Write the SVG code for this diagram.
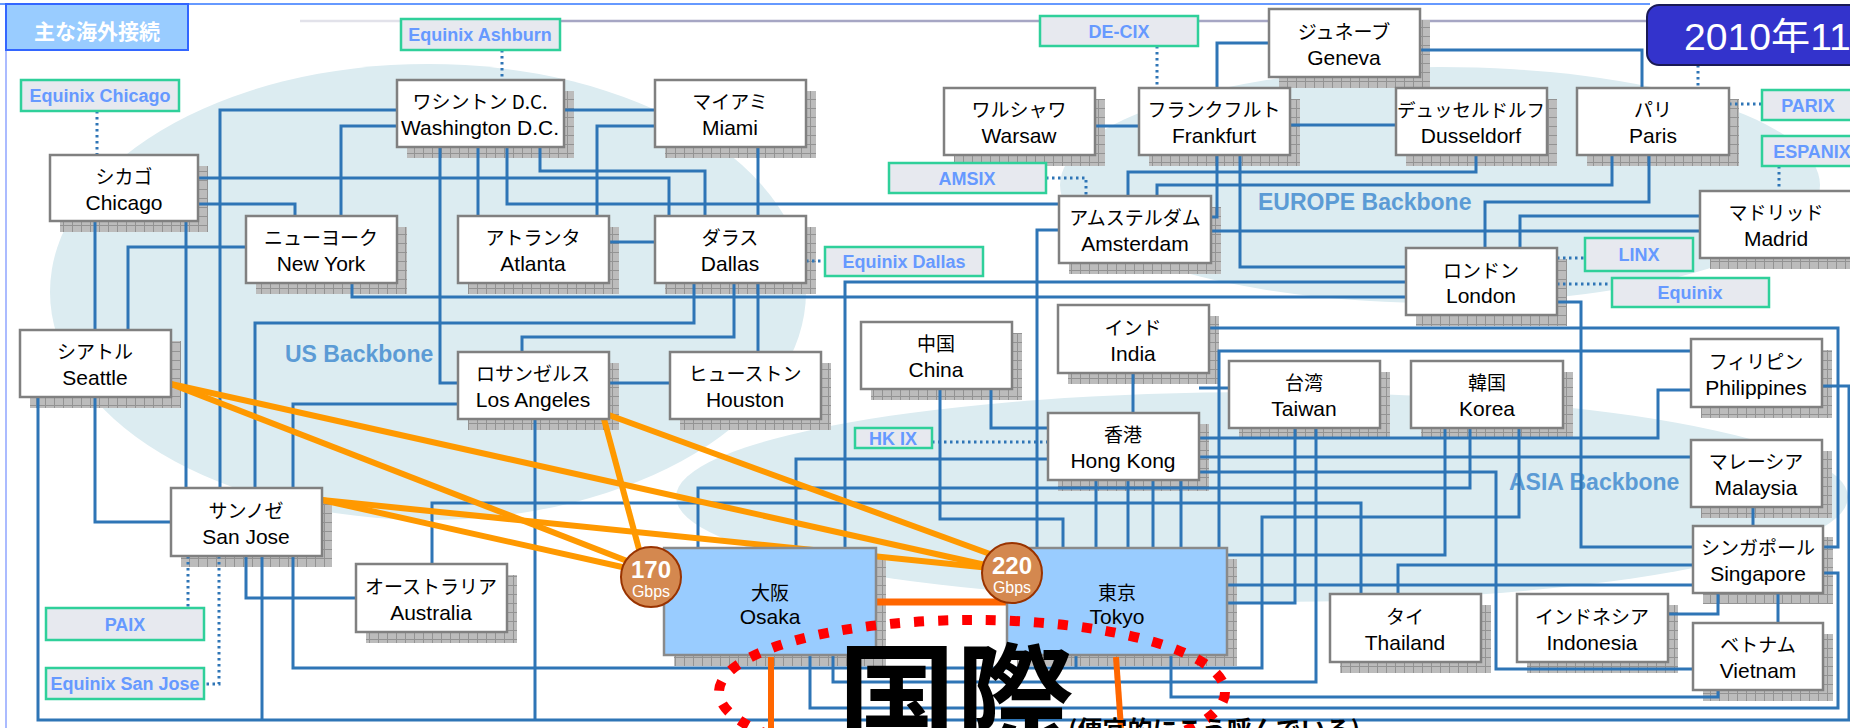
<svg xmlns="http://www.w3.org/2000/svg" width="1850" height="728" viewBox="0 0 1850 728">
<defs>
<pattern id="chk" width="9" height="9" patternUnits="userSpaceOnUse"><rect width="9" height="9" fill="#bcbcbc"/><path d="M0 0.5H9M0.5 0V9" stroke="#939393" stroke-width="1"/></pattern>
<style>
.box{fill:#fff;stroke:#808080;stroke-width:2.5}
.hub{fill:#99ccff;stroke:#8a8a8a;stroke-width:2.5}
.sh{fill:url(#chk)}
.jp{font-family:"Noto Sans CJK JP","Liberation Sans",sans-serif;font-size:19px;text-anchor:middle;fill:#000}
.en{font-family:"Liberation Sans",Arial,sans-serif;font-size:21px;text-anchor:middle;fill:#000}
.ixr{fill:#e7e9ef;stroke:#2fd09a;stroke-width:2.5}
.ixt{font-family:"Liberation Sans",Arial,sans-serif;font-weight:bold;font-size:18px;fill:#6699ff;text-anchor:middle}
.c{fill:none;stroke:#2e75b6;stroke-width:3}
.d{fill:none;stroke:#2e75b6;stroke-width:3;stroke-dasharray:2.5 3.5}
.o{fill:none;stroke:#ff9900;stroke-width:6}
.bb{font-family:"Liberation Sans",Arial,sans-serif;font-weight:bold;font-size:23px;fill:#5b9bd5}
.blob{fill:#dcecf1}
.gb{fill:#d4884f;stroke:#993300;stroke-width:2}
.gn{font-family:"Liberation Sans",Arial,sans-serif;font-weight:bold;font-size:24px;fill:#fff;text-anchor:middle}
.gs{font-family:"Liberation Sans",Arial,sans-serif;font-size:16px;fill:#fff;text-anchor:middle}
</style>
</defs>
<rect width="1850" height="728" fill="#fff"/>
<!-- frame -->
<line x1="0" y1="4" x2="1650" y2="4" stroke="#6699ff" stroke-width="2"/>
<line x1="300" y1="21" x2="560" y2="21" stroke="#e2e2ea" stroke-width="2.5"/>
<line x1="560" y1="21" x2="1650" y2="21" stroke="#a6a6c4" stroke-width="2.5"/>
<line x1="6" y1="50" x2="6" y2="728" stroke="#8fa4ff" stroke-width="1.5"/>
<!-- blobs -->
<ellipse class="blob" cx="428" cy="292" rx="378" ry="228"/>
<ellipse class="blob" cx="1440" cy="185" rx="380" ry="118"/>
<ellipse class="blob" cx="1262" cy="497" rx="586" ry="105"/>
<text class="bb" x="285" y="362">US Backbone</text>
<text class="bb" x="1258" y="210">EUROPE Backbone</text>
<text class="bb" x="1509" y="490">ASIA Backbone</text>
<!-- shadows -->
<g id="shadows">
<rect class="sh" x="60" y="166" width="148" height="66"/>
<rect class="sh" x="407" y="91" width="167" height="67"/>
<rect class="sh" x="665" y="91" width="151" height="67"/>
<rect class="sh" x="256" y="227" width="151" height="67"/>
<rect class="sh" x="468" y="227" width="151" height="67"/>
<rect class="sh" x="665" y="227" width="151" height="67"/>
<rect class="sh" x="30" y="341" width="151" height="67"/>
<rect class="sh" x="468" y="363" width="151" height="67"/>
<rect class="sh" x="680" y="363" width="151" height="67"/>
<rect class="sh" x="181" y="499" width="151" height="68"/>
<rect class="sh" x="366" y="575" width="151" height="68"/>
<rect class="sh" x="954" y="99" width="151" height="67"/>
<rect class="sh" x="1279" y="20" width="151" height="68"/>
<rect class="sh" x="1149" y="99" width="151" height="67"/>
<rect class="sh" x="1406" y="99" width="151" height="67"/>
<rect class="sh" x="1587" y="99" width="152" height="67"/>
<rect class="sh" x="1069" y="207" width="152" height="67"/>
<rect class="sh" x="1710" y="202" width="152" height="67"/>
<rect class="sh" x="1416" y="259" width="151" height="67"/>
<rect class="sh" x="871" y="333" width="151" height="67"/>
<rect class="sh" x="1068" y="316" width="151" height="68"/>
<rect class="sh" x="1058" y="424" width="151" height="67"/>
<rect class="sh" x="1239" y="372" width="151" height="67"/>
<rect class="sh" x="1421" y="372" width="152" height="67"/>
<rect class="sh" x="1701" y="350" width="131" height="68"/>
<rect class="sh" x="1701" y="451" width="131" height="67"/>
<rect class="sh" x="1703" y="537" width="130" height="67"/>
<rect class="sh" x="1703" y="634" width="130" height="67"/>
<rect class="sh" x="1340" y="605" width="151" height="68"/>
<rect class="sh" x="1527" y="605" width="151" height="68"/>
<rect class="sh" x="674" y="559" width="212" height="107"/>
<rect class="sh" x="1017" y="559" width="220" height="107"/>
</g>
<!-- connectors -->
<g id="connectors">
<path class="c" d="M397,126H341V216"/>
<path class="c" d="M397,110H220V488"/>
<path class="c" d="M564,110H655"/>
<path class="c" d="M655,126H597V216"/>
<path class="c" d="M198,178H669V216"/>
<path class="c" d="M198,204H295V216"/>
<path class="c" d="M540,147V171H705V216"/>
<path class="c" d="M507,147V204H1059"/>
<path class="c" d="M478,147V216"/>
<path class="c" d="M440,147V383H458"/>
<path class="c" d="M758,147V216"/>
<path class="c" d="M609,242H655"/>
<path class="c" d="M95,221V330"/>
<path class="c" d="M186,221V488"/>
<path class="c" d="M246,247H128V330"/>
<path class="c" d="M694,283V323H255V488"/>
<path class="c" d="M352,283V297H1406"/>
<path class="c" d="M734,283V337H522V352"/>
<path class="c" d="M758,283V352"/>
<path class="c" d="M609,383H670"/>
<path class="c" d="M458,404H293V488"/>
<path class="c" d="M535,419V720"/>
<path class="c" d="M38,397V720H1849V386H1822"/>
<path class="c" d="M95,397V522H171"/>
<path class="c" d="M246,556V598H356"/>
<path class="c" d="M262,556V720"/>
<path class="c" d="M293,556V668H1262V517H1519V428"/>
<path class="c" d="M432,564V503H1361V594"/>
<path class="c" d="M1269,43H1217V88"/>
<path class="c" d="M1420,50H1642V88"/>
<path class="c" d="M1290,125H1396"/>
<path class="c" d="M1095,126H1139"/>
<path class="c" d="M1240,155V267H1406"/>
<path class="c" d="M1217,155V217H1211"/>
<path class="c" d="M1476,155V172H1128V196"/>
<path class="c" d="M1612,155V185H1157V196"/>
<path class="c" d="M1649,155V202H1485V248"/>
<path class="c" d="M1700,216H1520V248"/>
<path class="c" d="M1211,231H1700"/>
<path class="c" d="M1059,230H1037V548"/>
<path class="c" d="M1406,282H845V548"/>
<path class="c" d="M1557,302H1581V547H1693"/>
<path class="c" d="M991,389V428H1048"/>
<path class="c" d="M940,389V519H1063V548"/>
<path class="c" d="M1048,459H796V548"/>
<path class="c" d="M1470,428V488H698V548"/>
<path class="c" d="M1133,373V413"/>
<path class="c" d="M1209,328H1838V547H1823"/>
<path class="c" d="M1691,390H1658V438H1199"/>
<path class="c" d="M1691,351H1219V548"/>
<path class="c" d="M1199,388H1229"/>
<path class="c" d="M1199,457H1691"/>
<path class="c" d="M1199,472H1496V669H1693"/>
<path class="c" d="M1295,428V603H1227"/>
<path class="c" d="M1316,428V682H833V655"/>
<path class="c" d="M810,655V708H1838V573H1823"/>
<path class="c" d="M1693,565H1398V594"/>
<path class="c" d="M1227,585H1693"/>
<path class="c" d="M1445,428V555H1227"/>
<path class="c" d="M1668,614H1718V593"/>
<path class="c" d="M1778,593V623"/>
<path class="c" d="M1718,690V697H1171V655"/>
<path class="c" d="M1753,507V526"/>
<path class="c" d="M1096,480V548"/>
<path class="c" d="M1128,480V548"/>
<path class="c" d="M1153,480V548"/>
<path class="c" d="M1181,480V548"/>
<path class="c" d="M1076,655V668"/>
<path class="d" d="M97,111V155"/>
<path class="d" d="M502,50V80"/>
<path class="d" d="M806,261H825"/>
<path class="d" d="M1046,178H1086V196"/>
<path class="d" d="M1157,46V88"/>
<path class="d" d="M1698,65V88"/>
<path class="d" d="M1729,104H1762"/>
<path class="d" d="M1779,166V191"/>
<path class="d" d="M1557,258H1585"/>
<path class="d" d="M1557,284H1612"/>
<path class="d" d="M932,442H1048"/>
<path class="d" d="M188,556V608"/>
<path class="d" d="M219,556V684H204"/>
<path class="o" d="M171,384L640,566"/>
<path class="o" d="M171,384L990,566"/>
<path class="o" d="M322,500L640,571"/>
<path class="o" d="M322,500L990,568"/>
<path class="o" d="M604,419L640,553"/>
<path class="o" d="M606,414L990,554"/>
<path d="M876,602H1007" stroke="#ff6600" stroke-width="7" fill="none"/>
<path d="M771,657V728" stroke="#ff6600" stroke-width="6" fill="none"/>
<path d="M1116,657L1121,728" stroke="#ff6600" stroke-width="6" fill="none"/>
</g>
<!-- nodes -->
<g id="n-chicago"><rect class="box" x="50" y="155" width="148" height="66"/><text class="jp" x="124" y="184">シカゴ</text><text class="en" x="124" y="210">Chicago</text></g>
<g id="n-washington"><rect class="box" x="397" y="80" width="167" height="67"/><text class="jp" x="480" y="109">ワシントン D.C.</text><text class="en" x="480" y="135">Washington D.C.</text></g>
<g id="n-miami"><rect class="box" x="655" y="80" width="151" height="67"/><text class="jp" x="730" y="109">マイアミ</text><text class="en" x="730" y="135">Miami</text></g>
<g id="n-newyork"><rect class="box" x="246" y="216" width="151" height="67"/><text class="jp" x="321" y="245">ニューヨーク</text><text class="en" x="321" y="271">New York</text></g>
<g id="n-atlanta"><rect class="box" x="458" y="216" width="151" height="67"/><text class="jp" x="533" y="245">アトランタ</text><text class="en" x="533" y="271">Atlanta</text></g>
<g id="n-dallas"><rect class="box" x="655" y="216" width="151" height="67"/><text class="jp" x="730" y="245">ダラス</text><text class="en" x="730" y="271">Dallas</text></g>
<g id="n-seattle"><rect class="box" x="20" y="330" width="151" height="67"/><text class="jp" x="95" y="359">シアトル</text><text class="en" x="95" y="385">Seattle</text></g>
<g id="n-losangeles"><rect class="box" x="458" y="352" width="151" height="67"/><text class="jp" x="533" y="381">ロサンゼルス</text><text class="en" x="533" y="407">Los Angeles</text></g>
<g id="n-houston"><rect class="box" x="670" y="352" width="151" height="67"/><text class="jp" x="745" y="381">ヒューストン</text><text class="en" x="745" y="407">Houston</text></g>
<g id="n-sanjose"><rect class="box" x="171" y="488" width="151" height="68"/><text class="jp" x="246" y="518">サンノゼ</text><text class="en" x="246" y="544">San Jose</text></g>
<g id="n-australia"><rect class="box" x="356" y="564" width="151" height="68"/><text class="jp" x="431" y="594">オーストラリア</text><text class="en" x="431" y="620">Australia</text></g>
<g id="n-warsaw"><rect class="box" x="944" y="88" width="151" height="67"/><text class="jp" x="1019" y="117">ワルシャワ</text><text class="en" x="1019" y="143">Warsaw</text></g>
<g id="n-geneva"><rect class="box" x="1269" y="9" width="151" height="68"/><text class="jp" x="1344" y="39">ジュネーブ</text><text class="en" x="1344" y="65">Geneva</text></g>
<g id="n-frankfurt"><rect class="box" x="1139" y="88" width="151" height="67"/><text class="jp" x="1214" y="117">フランクフルト</text><text class="en" x="1214" y="143">Frankfurt</text></g>
<g id="n-dusseldorf"><rect class="box" x="1396" y="88" width="151" height="67"/><text class="jp" x="1471" y="117" style="font-size:18.5px">デュッセルドルフ</text><text class="en" x="1471" y="143">Dusseldorf</text></g>
<g id="n-paris"><rect class="box" x="1577" y="88" width="152" height="67"/><text class="jp" x="1653" y="117">パリ</text><text class="en" x="1653" y="143">Paris</text></g>
<g id="n-amsterdam"><rect class="box" x="1059" y="196" width="152" height="67"/><text class="jp" x="1135" y="225">アムステルダム</text><text class="en" x="1135" y="251">Amsterdam</text></g>
<g id="n-madrid"><rect class="box" x="1700" y="191" width="152" height="67"/><text class="jp" x="1776" y="220">マドリッド</text><text class="en" x="1776" y="246">Madrid</text></g>
<g id="n-london"><rect class="box" x="1406" y="248" width="151" height="67"/><text class="jp" x="1481" y="278">ロンドン</text><text class="en" x="1481" y="303">London</text></g>
<g id="n-china"><rect class="box" x="861" y="322" width="151" height="67"/><text class="jp" x="936" y="351">中国</text><text class="en" x="936" y="377">China</text></g>
<g id="n-india"><rect class="box" x="1058" y="305" width="151" height="68"/><text class="jp" x="1133" y="335">インド</text><text class="en" x="1133" y="361">India</text></g>
<g id="n-hongkong"><rect class="box" x="1048" y="413" width="151" height="67"/><text class="jp" x="1123" y="442">香港</text><text class="en" x="1123" y="468">Hong Kong</text></g>
<g id="n-taiwan"><rect class="box" x="1229" y="361" width="151" height="67"/><text class="jp" x="1304" y="390">台湾</text><text class="en" x="1304" y="416">Taiwan</text></g>
<g id="n-korea"><rect class="box" x="1411" y="361" width="152" height="67"/><text class="jp" x="1487" y="390">韓国</text><text class="en" x="1487" y="416">Korea</text></g>
<g id="n-philippines"><rect class="box" x="1691" y="339" width="131" height="68"/><text class="jp" x="1756" y="369">フィリピン</text><text class="en" x="1756" y="395">Philippines</text></g>
<g id="n-malaysia"><rect class="box" x="1691" y="440" width="131" height="67"/><text class="jp" x="1756" y="469">マレーシア</text><text class="en" x="1756" y="495">Malaysia</text></g>
<g id="n-singapore"><rect class="box" x="1693" y="526" width="130" height="67"/><text class="jp" x="1758" y="555">シンガポール</text><text class="en" x="1758" y="581">Singapore</text></g>
<g id="n-vietnam"><rect class="box" x="1693" y="623" width="130" height="67"/><text class="jp" x="1758" y="652">ベトナム</text><text class="en" x="1758" y="678">Vietnam</text></g>
<g id="n-thailand"><rect class="box" x="1330" y="594" width="151" height="68"/><text class="jp" x="1405" y="624">タイ</text><text class="en" x="1405" y="650">Thailand</text></g>
<g id="n-indonesia"><rect class="box" x="1517" y="594" width="151" height="68"/><text class="jp" x="1592" y="624">インドネシア</text><text class="en" x="1592" y="650">Indonesia</text></g>
<g id="n-osaka"><rect class="hub" x="664" y="548" width="212" height="107"/><text class="jp" x="770" y="600">大阪</text><text class="en" x="770" y="624">Osaka</text></g>
<g id="n-tokyo"><rect class="hub" x="1007" y="548" width="220" height="107"/><text class="jp" x="1117" y="600">東京</text><text class="en" x="1117" y="624">Tokyo</text></g>
<!-- IX labels -->
<g id="ix-chicago"><rect class="ixr" x="21" y="80" width="158" height="31"/><text class="ixt" x="100" y="102">Equinix Chicago</text></g>
<g id="ix-ashburn"><rect class="ixr" x="401" y="19" width="159" height="31"/><text class="ixt" x="480" y="41">Equinix Ashburn</text></g>
<g id="ix-decix"><rect class="ixr" x="1040" y="16" width="158" height="30"/><text class="ixt" x="1119" y="38">DE-CIX</text></g>
<g id="ix-amsix"><rect class="ixr" x="889" y="163" width="157" height="30"/><text class="ixt" x="967" y="185">AMSIX</text></g>
<g id="ix-dallas"><rect class="ixr" x="825" y="247" width="158" height="29"/><text class="ixt" x="904" y="268">Equinix Dallas</text></g>
<g id="ix-parix"><rect class="ixr" x="1762" y="90" width="100" height="30"/><text class="ixt" x="1808" y="112">PARIX</text></g>
<g id="ix-espanix"><rect class="ixr" x="1762" y="136" width="100" height="30"/><text class="ixt" x="1812" y="158">ESPANIX</text></g>
<g id="ix-linx"><rect class="ixr" x="1585" y="238" width="108" height="33"/><text class="ixt" x="1639" y="261">LINX</text></g>
<g id="ix-equinix"><rect class="ixr" x="1612" y="278" width="157" height="29"/><text class="ixt" x="1690" y="299">Equinix</text></g>
<g id="ix-hkix"><rect class="ixr" x="855" y="428" width="77" height="20"/><text class="ixt" x="893" y="445">HK IX</text></g>
<g id="ix-paix"><rect class="ixr" x="46" y="608" width="158" height="32"/><text class="ixt" x="125" y="631">PAIX</text></g>
<g id="ix-eqsj"><rect class="ixr" x="46" y="668" width="158" height="31"/><text class="ixt" x="125" y="690">Equinix San Jose</text></g>
<!-- title / date -->
<g id="title"><rect x="6" y="4" width="182" height="46" fill="#99ccff" stroke="#3366ff" stroke-width="2"/><text x="97" y="39" style="font-family:'Noto Sans CJK JP','Liberation Sans',sans-serif;font-size:21px;font-weight:bold;fill:#fff;text-anchor:middle">主な海外接続</text></g>
<g id="date"><rect x="1647" y="5" width="230" height="60" rx="12" fill="#3333cc" stroke="#1a1a55" stroke-width="2"/><text x="1684" y="50" textLength="206" lengthAdjust="spacingAndGlyphs" style="font-family:'Liberation Sans','Noto Sans CJK JP',sans-serif;font-size:37px;fill:#fff">2010年11月</text></g>
<!-- capacity badges -->
<g id="b170"><circle class="gb" cx="651" cy="577" r="30"/><text class="gn" x="651" y="578">170</text><text class="gs" x="651" y="597">Gbps</text></g>
<g id="b220"><circle class="gb" cx="1012" cy="573" r="30"/><text class="gn" x="1012" y="574">220</text><text class="gs" x="1012" y="593">Gbps</text></g>
<!-- highlight -->
<ellipse cx="972" cy="692" rx="253" ry="72" fill="none" stroke="#ff0000" stroke-width="10" stroke-dasharray="10 14"/>
<text x="838" y="742" style="font-family:'Noto Sans CJK JP',sans-serif;font-size:118px;font-weight:bold;fill:#000">国際</text>
<text x="1068" y="739" style="font-family:'Noto Sans CJK JP',sans-serif;font-size:25px;font-weight:bold;fill:#000">(便宜的にこう呼んでいる)</text>
</svg>
